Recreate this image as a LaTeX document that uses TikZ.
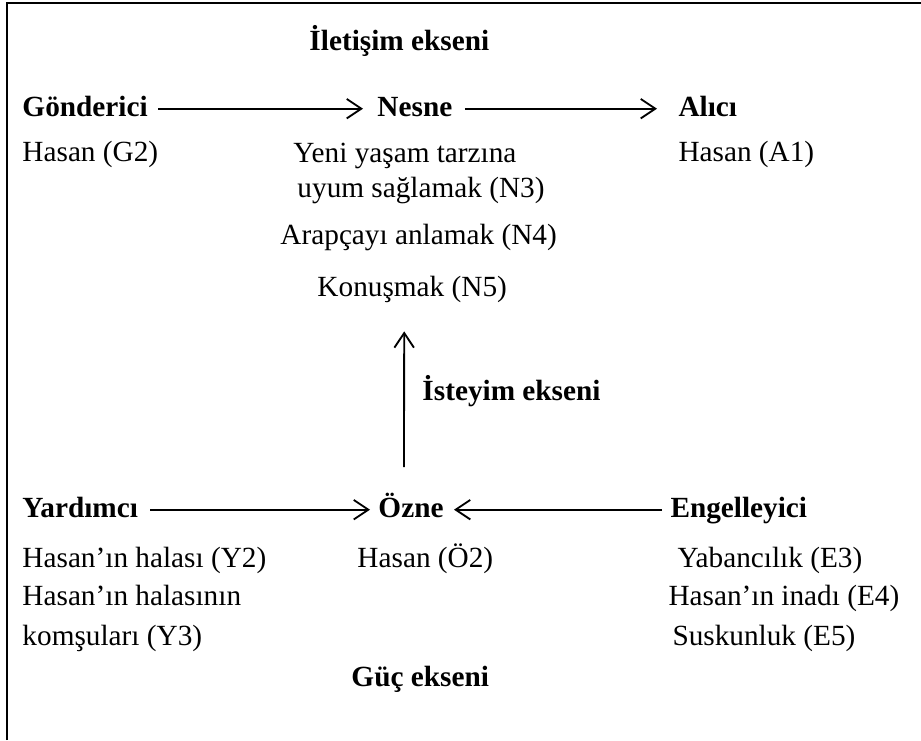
\documentclass[tikz,border=0pt]{standalone}
\usepackage{fontspec}
\setmainfont{Liberation Serif}
\usetikzlibrary{arrows.meta,calc,positioning}
\tikzset{
  actant/.style={inner sep=0pt, anchor=base west, font=\bfseries, text height=0.7em, text depth=0.2em},
  entry/.style={inner sep=0pt, anchor=base west, text height=0.7em, text depth=0.2em},
  axisname/.style={inner sep=0pt, anchor=base west, font=\bfseries},
  axisflow/.style={-{Straight Barb[length=6pt,width=8pt]}, line width=0.75pt},
  frameline/.style={line width=1.1pt}
}
\begin{document}
\fontsize{12}{14.4}\selectfont
\begin{tikzpicture}[x=0.41pt,y=-0.41pt]
  \useasboundingbox (0,0) rectangle (921,740);
  \draw[frameline] (7,740) -- (7,3) -- (921,3);

  % communication axis
  \node[axisname] (iletisim) at (309,50) {İletişim ekseni};
  \node[actant] (gon) at (22,116) {Gönderici};
  \node[actant] (nes) at (377,116) {Nesne};
  \node[actant] (ali) at (678,116) {Alıcı};
  \draw[axisflow] ($(gon.east)+(10,0)$) -- ($(nes.west)+(-14,0)$);
  \draw[axisflow] ($(nes.east)+(12,0)$) -- ($(ali.west)+(-21,0)$);

  \node[entry] (g2) at (22,161) {Hasan (G2)};
  \node[entry] (a1) at (678,161) {Hasan (A1)};
  \node[entry] (n3a) at (293,162) {Yeni yaşam tarzına};
  \node[entry] (n3b) at (297,197) {uyum sağlamak (N3)};
  \node[entry] (n4) at (280,244) {Arapçayı anlamak (N4)};
  \node[entry] (kon) at (317,296) {Konuşmak (N5)};

  % power axis
  \node[actant] (yar) at (22,517) {Yardımcı};
  \node[actant] (ozne) at (378,517) {Özne};
  \node[actant] (eng) at (670,517) {Engelleyici};
  \draw[axisflow] ($(yar.east)+(12,0)$) -- ($(ozne.west)+(-8,0)$);
  \draw[axisflow] ($(eng.west)+(-8,0)$) -- ($(ozne.east)+(10,0)$);

  % desire axis
  \draw[axisflow] ($(ozne.north)+(-7,-29)$) -- ($(kon.south)+(-8,29)$);
  \node[axisname] (isteyim) at (422,400) {İsteyim ekseni};

  \node[entry] (y2) at (22,567) {Hasan’ın halası (Y2)};
  \node[entry] (y3a) at (22,605) {Hasan’ın halasının};
  \node[entry] (y3b) at (22,645) {komşuları (Y3)};
  \node[entry] (o2) at (357,567) {Hasan (Ö2)};
  \node[entry] (e3) at (677,567) {Yabancılık (E3)};
  \node[entry] (e4) at (668,605) {Hasan’ın inadı (E4)};
  \node[entry] (e5) at (672,645) {Suskunluk (E5)};
  \node[axisname] (guc) at (351,686) {Güç ekseni};
\end{tikzpicture}
\end{document}
